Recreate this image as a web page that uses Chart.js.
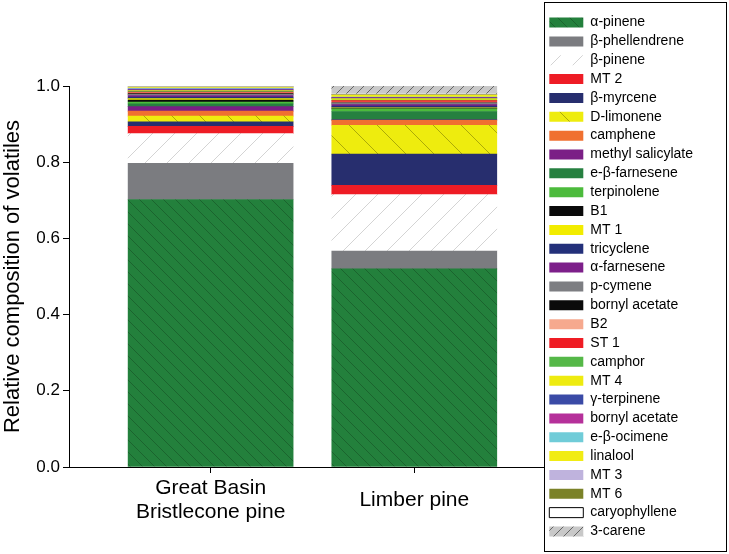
<!DOCTYPE html>
<html>
<head>
<meta charset="utf-8">
<script src="https://cdn.jsdelivr.net/npm/chart.js@4"></script>
<style>
  html, body { margin: 0; padding: 0; background: #fff; }
  #wrap { width: 729px; height: 554px; }
</style>
</head>
<body>
<div id="wrap"><canvas id="chart" width="729" height="554"></canvas></div>
<script>
// categories on the x axis
const species = [['Great Basin', 'Bristlecone pine'], 'Limber pine']

// compounds, bottom of the stack first (same order as the legend)
const compounds = [
  'α-pinene', 'β-phellendrene', 'β-pinene', 'MT 2', 'β-myrcene', 'D-limonene',
  'camphene', 'methyl salicylate', 'e-β-farnesene', 'terpinolene', 'B1', 'MT 1',
  'tricyclene', 'α-farnesene', 'p-cymene', 'bornyl acetate', 'B2', 'ST 1',
  'camphor', 'MT 4', 'γ-terpinene', 'bornyl acetate', 'e-β-ocimene', 'linalool',
  'MT 3', 'MT 6', 'caryophyllene', '3-carene'
]

// relative composition, one value per compound
const bristleconeValues = [
  0.702, 0.095, 0.078, 0.019, 0.012, 0.015,
  0.013, 0.012, 0.007, 0.005, 0.005, 0.004,
  0.004, 0.004, 0.003, 0.002, 0.002, 0.002,
  0.002, 0.002, 0.002, 0.002, 0.002, 0.002,
  0.001, 0.001, 0.001, 0.001
]
const limberValues = [
  0.520, 0.047, 0.148, 0.024, 0.082, 0.076,
  0.013, 0.001, 0.022, 0.007, 0.001, 0.002,
  0.004, 0.004, 0.004, 0.001, 0.002, 0.004,
  0.001, 0.004, 0.002, 0.001, 0.001, 0.005,
  0.001, 0.001, 0.001, 0.021
]

const yTicks = [0, 0.2, 0.4, 0.6, 0.8, 1.0]

// diagonal hatch fill
function hatch(bg, line, size, dir, width) {
  const c = document.createElement('canvas')
  c.width = size
  c.height = size
  const g = c.getContext('2d')
  g.fillStyle = bg
  g.fillRect(0, 0, size, size)
  g.strokeStyle = line
  g.lineWidth = width || 1
  g.beginPath()
  for (let k = -1; k <= 1; k++) {
    if (dir === '/') {
      g.moveTo(k * size, size)
      g.lineTo(k * size + size, 0)
    } else {
      g.moveTo(k * size, 0)
      g.lineTo(k * size + size, size)
    }
  }
  g.stroke()
  return g.createPattern(c, 'repeat')
}

const fills = [
  hatch('#23803c', 'rgba(0,0,0,0.22)', 12, '\\'),
  '#7b7c80',
  hatch('#ffffff', '#d4d4d4', 22, '/'),
  '#ee1c25',
  '#272e6e',
  hatch('#eeec0e', 'rgba(90,90,0,0.45)', 28, '\\'),
  '#f07030',
  '#7b1f86',
  '#268040',
  '#4cbb3c',
  '#0a0a0a',
  '#f2ec00',
  '#23307a',
  '#7d1f8a',
  '#7d7e82',
  '#0b0b0b',
  '#f6a98e',
  '#ef1c24',
  '#55b848',
  '#eeeb10',
  '#3a4aa6',
  '#b5309a',
  '#70ccd8',
  '#f1ec14',
  '#bfb3dd',
  '#7b8228',
  '#ffffff',
  hatch('#c8c8c8', '#666666', 10, '/')
]

const datasets = compounds.map((name, i) => ({
  label: name,
  data: [{ x: 1, y: bristleconeValues[i] }, { x: 2, y: limberValues[i] }],
  backgroundColor: fills[i],
  borderWidth: 0,
  barThickness: 165
}))

// box around the legend
const legendFrame = {
  id: 'legendFrame',
  afterDraw(chart) {
    const lg = chart.legend
    const ctx = chart.ctx
    ctx.save()
    ctx.strokeStyle = '#000'
    ctx.lineWidth = 1
    ctx.strokeRect(Math.round(lg.left) + 0.5, 2.5, chart.width - 3 - Math.round(lg.left), chart.height - 5)
    ctx.restore()
  }
}

new Chart(document.getElementById('chart').getContext('2d'), {
  type: 'bar',
  data: { datasets: datasets },
  options: {
    responsive: false,
    animation: false,
    layout: { padding: { top: 0, right: 26, bottom: 0, left: 0 } },
    plugins: {
      tooltip: { enabled: false },
      // empty spacer above the plot only
      title: {
        display: true,
        text: ' ',
        fullSize: false,
        font: { size: 1 },
        padding: { top: 84.8, bottom: 0 }
      },
      legend: {
        position: 'right',
        align: 'center',
        fullSize: true,
        labels: {
          color: '#000',
          font: { family: 'Liberation Sans, Arial', size: 14 },
          boxWidth: 34,
          boxHeight: 10,
          padding: 4.85,
          generateLabels(chart) {
            const items = Chart.defaults.plugins.legend.labels.generateLabels(chart)
            items.forEach(it => {
              if (it.text === 'caryophyllene') {
                it.lineWidth = 1
                it.strokeStyle = '#000'
              } else {
                it.lineWidth = 0
              }
            })
            return items
          }
        }
      }
    },
    scales: {
      x: {
        type: 'linear',
        stacked: true,
        offset: false,
        min: 0.3047,
        max: 2.639,
        afterBuildTicks(scale) {
          scale.ticks = [{ value: 1 }, { value: 2 }]
        },
        afterFit(scale) { scale.height = 87 },
        ticks: {
          color: '#000',
          font: { family: 'Liberation Sans, Arial', size: 21, lineHeight: 1.15 },
          maxRotation: 0,
          crossAlign: 'center',
          padding: 15,
          callback: (v) => species[v - 1]
        },
        grid: { drawOnChartArea: false, offset: false, color: '#000', tickLength: 6 },
        border: { display: true, color: '#000', width: 1 }
      },
      y: {
        stacked: true,
        min: 0,
        max: 1,
        afterBuildTicks(scale) {
          scale.ticks = yTicks.map(v => ({ value: v }))
        },
        afterFit(scale) { scale.width = 69 },
        ticks: {
          color: '#000',
          font: { family: 'Liberation Sans, Arial', size: 17 },
          padding: 3,
          callback: (v) => v.toFixed(1)
        },
        title: {
          display: true,
          text: 'Relative composition of volatiles',
          color: '#000',
          font: { family: 'Liberation Sans, Arial', size: 22 },
          padding: { top: 0, bottom: 2 }
        },
        grid: { drawOnChartArea: false, color: '#000', tickLength: 6 },
        border: { display: true, color: '#000', width: 1 }
      }
    }
  },
  plugins: [legendFrame]
})
</script>
</body>
</html>
